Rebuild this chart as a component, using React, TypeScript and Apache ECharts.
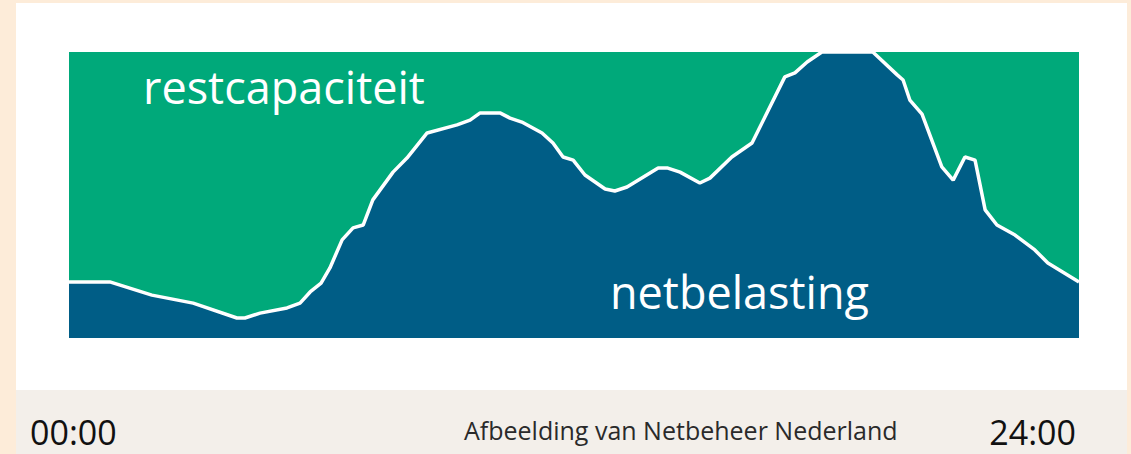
import React, { useEffect, useRef } from "react";
import * as echarts from "echarts";

// Time of day in hours
const hours = [
  0, 0.97, 1.97, 2.95, 3.99, 4.18, 4.54, 5.18, 5.49, 5.73, 5.99, 6.2, 6.49, 6.75, 6.99, 7.22, 7.7, 8.03,
  8.51, 9.22, 9.53, 9.77, 10.24, 10.48, 10.76, 11.24, 11.5, 11.74, 11.98, 12.26, 12.74, 12.97, 13.26,
  14.0, 14.23, 14.52, 14.99, 15.23, 15.75, 16.23, 17.01, 17.25, 17.54, 17.89, 19.1, 19.68, 19.82,
  19.98, 20.27, 20.74, 21.01, 21.29, 21.53, 21.77, 22.05, 22.48, 22.95, 23.26, 24,
];
// Net load as % of capacity
const netbelasting = [
  19.6, 19.6, 15.0, 12.2, 7.0, 7.0, 8.7, 10.5, 12.2, 16.1, 19.2, 24.5, 34.3, 38.5, 39.5, 48.3, 58.0, 62.9,
  71.7, 74.5, 76.2, 78.7, 78.7, 76.9, 75.5, 71.7, 68.2, 63.3, 62.2, 57.0, 52.1, 51.4, 52.8,
  59.4, 59.4, 58.0, 54.2, 55.9, 63.3, 68.2, 91.3, 92.7, 96.5, 100, 100, 92.0, 90.2,
  83.2, 78.3, 59.8, 55.2, 63.3, 62.2, 44.8, 39.5, 36.0, 30.8, 26.2, 19.6,
];
const capaciteitHours = [0, 24];
const capaciteit = [100, 100];

const labelRest = "restcapaciteit";
const labelNet = "netbelasting";
const startLabel = "00:00";
const endLabel = "24:00";
const credit = "Afbeelding van Netbeheer Nederland";

export default function App() {
  const ref = useRef<HTMLDivElement>(null);
  useEffect(() => {
    if (!ref.current) return;
    const chart = echarts.init(ref.current, undefined, { renderer: "svg" });
    const font = "'Open Sans', 'Noto Sans', sans-serif";
    chart.setOption({
      animation: false,
      backgroundColor: "#fdecd9",
      grid: { left: 69, right: 52, top: 52, bottom: 116 },
      xAxis: { type: "value", min: 0, max: 24, show: false },
      yAxis: { type: "value", min: 0, max: 100, show: false },
      graphic: [
        { type: "rect", z: -10, shape: { x: 16, y: 3, width: 1111, height: 387 }, style: { fill: "#ffffff" } },
        { type: "rect", z: -10, shape: { x: 16, y: 390, width: 1111, height: 64 }, style: { fill: "#f3efea" } },
        {
          type: "text", z: 100, x: 143, y: 86,
          style: { text: labelRest, fill: "#ffffff", font: `45px ${font}`, verticalAlign: "middle", align: "left" },
        },
        {
          type: "text", z: 100, x: 610, y: 291,
          style: { text: labelNet, fill: "#ffffff", font: `45px ${font}`, verticalAlign: "middle", align: "left" },
        },
        {
          type: "text", x: 30, y: 432,
          style: { text: startLabel, fill: "#111111", font: `34px ${font}`, verticalAlign: "middle", align: "left" },
        },
        {
          type: "text", x: 1076, y: 432,
          style: { text: endLabel, fill: "#111111", font: `34px ${font}`, verticalAlign: "middle", align: "right" },
        },
        {
          type: "text", x: 464, y: 430,
          style: { text: credit, fill: "#2a2a2a", font: `25px ${font}`, verticalAlign: "middle", align: "left" },
        },
      ],
      series: [
        {
          name: labelRest,
          type: "line",
          data: capaciteitHours.map((h, i) => [h, capaciteit[i]]),
          symbol: "none",
          lineStyle: { width: 0 },
          areaStyle: { color: "#00a97a", opacity: 1 },
          z: 1,
        },
        {
          name: labelNet,
          type: "line",
          data: hours.map((h, i) => [h, netbelasting[i]]),
          symbol: "none",
          lineStyle: { color: "#ffffff", width: 3.5 },
          areaStyle: { color: "#005d86", opacity: 1 },
          z: 2,
        },
      ],
    });
    return () => chart.dispose();
  }, []);
  return <div ref={ref} style={{ position: "fixed", left: 0, top: 0, width: 1131, height: 454 }} />;
}
